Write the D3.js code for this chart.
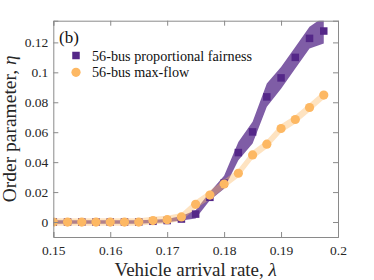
<!DOCTYPE html>
<html><head><meta charset="utf-8">
<script src="https://cdn.jsdelivr.net/npm/d3@7"></script>
<style>
html,body{margin:0;padding:0;background:#fff;}
svg text{font-family:"Liberation Serif","Times New Roman",Times,"DejaVu Serif",serif !important;}
</style></head>
<body><svg id="chart" width="374" height="280"></svg>
<script>
const lambda = [0.15,0.1525,0.155,0.1575,0.16,0.1625,0.165,0.1675,0.17,0.1725,0.175,0.1775,0.18,0.1825,0.185,0.1875,0.19,0.1925,0.195,0.1975];
const pfMean  = [0,0,0,0,0,0,0,0.0005,0.001,0.002,0.0053,0.0165,0.026,0.0464,0.0602,0.0836,0.0963,0.110,0.1227,0.1276];
const pfLower = [-0.0012,-0.0012,-0.0012,-0.0012,-0.0012,-0.0012,-0.0012,-0.0007,-0.0002,0.001,0.0023,0.0145,0.0223,0.0413,0.0524,0.077,0.089,0.1025,0.116,0.1193];
const pfUpper = [0.0012,0.0012,0.0012,0.0012,0.0012,0.0012,0.0012,0.0015,0.002,0.004,0.0078,0.020,0.031,0.0535,0.067,0.0925,0.1035,0.117,0.1305,0.137];
const mfMean  = [0,0,0,0,0,0,0,0.001,0.0016,0.0034,0.0118,0.018,0.0254,0.0326,0.0448,0.052,0.0625,0.0685,0.0765,0.0848];
const mfLower = [-0.0025,-0.0025,-0.0025,-0.0025,-0.0025,-0.0025,-0.0025,-0.0015,-0.001,0.0008,0.009,0.015,0.0225,0.0298,0.042,0.0492,0.0597,0.0657,0.0737,0.082];
const mfUpper = [0.0025,0.0025,0.0025,0.0025,0.0025,0.0025,0.0025,0.0035,0.0042,0.006,0.0146,0.021,0.0283,0.0354,0.0476,0.0548,0.0653,0.0713,0.0793,0.0876];
const xTicks = [0.15,0.16,0.17,0.18,0.19,0.2];
const xTickLabels = ["0.15","0.16","0.17","0.18","0.19","0.2"];
const yTicks = [0,0.02,0.04,0.06,0.08,0.1,0.12];
const yTickLabels = ["0","0.02","0.04","0.06","0.08","0.1","0.12"];
const seriesNames = ["56-bus proportional fairness","56-bus max-flow"];

const FONT = '"Liberation Serif","Times New Roman",Times,serif';
const svg = d3.select("#chart");
const m = {l:53.3, r:338, t:20.7, b:237};
const x = d3.scaleLinear().domain([0.15,0.2]).range([m.l,m.r]);
const y = d3.scaleLinear().domain([-0.01,0.1345]).range([m.b,m.t]);
const axisCol = "#8a8a8a", textCol = "#262626";
const purple = "#542788", orange = "#fdb863";

svg.append("defs").append("clipPath").attr("id","clip")
  .append("rect").attr("x",m.l).attr("y",m.t).attr("width",m.r-m.l).attr("height",m.b-m.t);

const g = svg.append("g").attr("clip-path","url(#clip)");
const idx = d3.range(lambda.length);
const area = (lo,hi)=>d3.area().x(i=>x(lambda[i])).y0(i=>y(lo[i])).y1(i=>y(hi[i]));
g.append("path").attr("d",area(pfLower,pfUpper)(idx)).attr("fill",purple).attr("fill-opacity",0.75);
g.append("path").attr("d",area(mfLower,mfUpper)(idx)).attr("fill",orange).attr("fill-opacity",0.4);
const sq = 7.5;
g.selectAll("rect.pf").data(idx).join("rect").attr("class","pf")
  .attr("x",i=>x(lambda[i])-sq/2).attr("y",i=>y(pfMean[i])-sq/2)
  .attr("width",sq).attr("height",sq).attr("fill",purple);
g.selectAll("circle.mf").data(idx).join("circle").attr("class","mf")
  .attr("cx",i=>x(lambda[i])).attr("cy",i=>y(mfMean[i])).attr("r",4.6).attr("fill",orange);

const tl = 5;
const axB = svg.append("g").attr("transform",`translate(0,${m.b})`)
  .call(d3.axisBottom(x).tickValues(xTicks).tickSize(-tl).tickPadding(8.5).tickFormat((d,i)=>xTickLabels[i]));
const axT = svg.append("g").attr("transform",`translate(0,${m.t})`)
  .call(d3.axisTop(x).tickValues(xTicks).tickSize(-tl).tickFormat(""));
const axL = svg.append("g").attr("transform",`translate(${m.l},0)`)
  .call(d3.axisLeft(y).tickValues(yTicks).tickSize(-tl).tickPadding(5).tickFormat((d,i)=>yTickLabels[i]));
const axR = svg.append("g").attr("transform",`translate(${m.r},0)`)
  .call(d3.axisRight(y).tickValues(yTicks).tickSize(-tl).tickFormat(""));
[axB,axT,axL,axR].forEach(a=>{
  a.attr("font-family",FONT).attr("font-size",13.5);
  a.select(".domain").attr("stroke",axisCol).attr("stroke-width",1);
  a.selectAll(".tick line").attr("stroke",axisCol);
  a.selectAll(".tick text").attr("fill",textCol).attr("font-family",FONT).attr("font-size",13.5);
});

svg.append("text").attr("x",(m.l+m.r)/2).attr("y",276).attr("text-anchor","middle")
  .attr("fill",textCol).attr("font-family",FONT).attr("font-size",19)
  .call(t=>{t.append("tspan").text("Vehicle arrival rate, ");t.append("tspan").attr("font-style","italic").text("λ");});
svg.append("text").attr("transform",`translate(16,${(m.t+m.b)/2}) rotate(-90)`).attr("text-anchor","middle")
  .attr("fill",textCol).attr("font-family",FONT).attr("font-size",19.5)
  .call(t=>{t.append("tspan").text("Order parameter, ");t.append("tspan").attr("font-style","italic").text("η");});

svg.append("text").attr("x",59).attr("y",43).attr("fill","#111").attr("font-family",FONT).attr("font-size",17).text("(b)");
const lg = svg.append("g");
lg.append("rect").attr("x",76-sq/2).attr("y",55.5-sq/2).attr("width",sq).attr("height",sq).attr("fill",purple);
lg.append("circle").attr("cx",76).attr("cy",72.3).attr("r",4.6).attr("fill",orange);
lg.selectAll("text").data(seriesNames).join("text").attr("x",92).attr("y",(d,i)=>60.5+i*16.8)
  .attr("fill","#111").attr("font-family",FONT).attr("font-size",14.2).text(d=>d);
</script></body></html>
